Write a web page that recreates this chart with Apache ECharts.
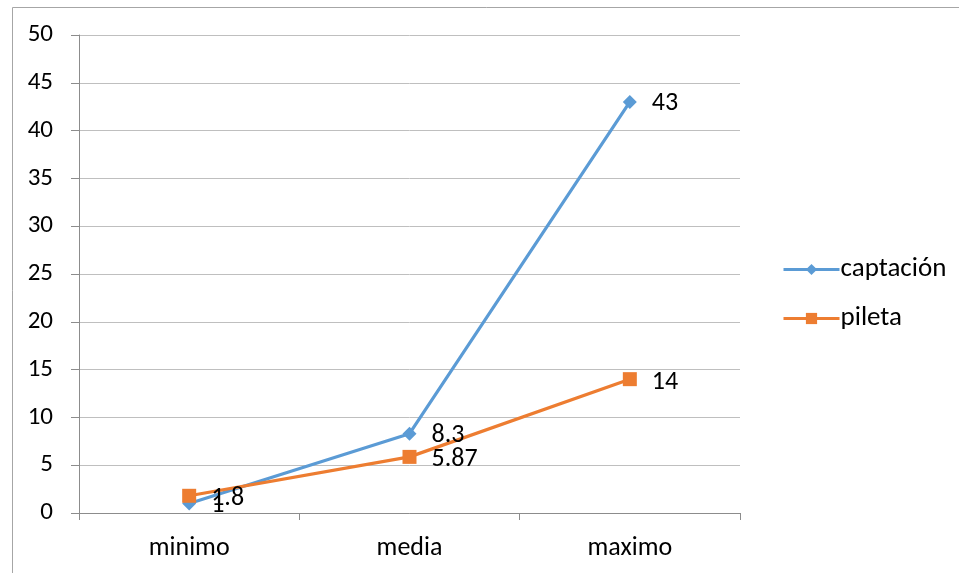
<!DOCTYPE html>
<html>
<head>
<meta charset="utf-8">
<script src="https://cdn.jsdelivr.net/npm/echarts@6/dist/echarts.min.js"></script>
<style>
    html, body { margin: 0; padding: 0; background: #fff; }
    #main { width: 959px; height: 573px; }
</style>
</head>
<body>
<div id="main"></div>
<script>
const categories = ['minimo', 'media', 'maximo'];
const captacion = [1, 8.3, 43];
const pileta = [1.8, 5.87, 14];

const chart = echarts.init(document.getElementById('main'));
const font = 'Carlito, "Open Sans", "Liberation Sans", sans-serif';

const option = {
    animation: false,
    graphic: [{
        type: 'rect',
        left: 10, top: 5,
        shape: { width: 1000, height: 1000 },
        style: { fill: 'none', stroke: '#a6a6a6', lineWidth: 1 }
    }],
    grid: { left: 79, right: 219, top: 35, bottom: 60 },
    legend: {
        orient: 'vertical',
        left: 777,
        top: 251,
        itemWidth: 56,
        itemHeight: 14,
        itemGap: 22,
        lineStyle: { width: 3 },
        textStyle: { fontFamily: font, fontSize: 27, color: '#000', padding: [0, 0, 0, -4] },
        data: ['captación', 'pileta']
    },
    xAxis: {
        type: 'category',
        data: categories,
        axisLine: { lineStyle: { color: '#8c8c8c', width: 1 } },
        axisTick: { show: true, length: 7, lineStyle: { color: '#8c8c8c' } },
        axisLabel: { fontFamily: font, fontSize: 26, color: '#000', margin: 22 }
    },
    yAxis: {
        type: 'value',
        min: 0, max: 50, interval: 5,
        axisLine: { show: true, lineStyle: { color: '#8c8c8c', width: 1 } },
        axisTick: { show: true, length: 8, lineStyle: { color: '#8c8c8c' } },
        splitLine: { lineStyle: { color: '#bfbfbf', width: 1 } },
        axisLabel: { fontFamily: font, fontSize: 25, color: '#000', margin: 26 }
    },
    series: [
        {
            name: 'captación',
            type: 'line',
            data: captacion,
            symbol: 'diamond',
            symbolSize: 14,
            lineStyle: { color: '#5b9bd5', width: 3.2 },
            itemStyle: { color: '#5b9bd5' },
            label: {
                show: true, position: 'right', distance: 15, offset: [0, 2],
                fontFamily: font, fontSize: 26, color: '#000'
            }
        },
        {
            name: 'pileta',
            type: 'line',
            data: pileta,
            symbol: 'rect',
            symbolSize: 14,
            lineStyle: { color: '#ed7d31', width: 3.2 },
            itemStyle: { color: '#ed7d31' },
            label: {
                show: true, position: 'right', distance: 15, offset: [0, 3],
                fontFamily: font, fontSize: 26, color: '#000'
            }
        }
    ]
};

chart.setOption(option);
</script>
</body>
</html>
